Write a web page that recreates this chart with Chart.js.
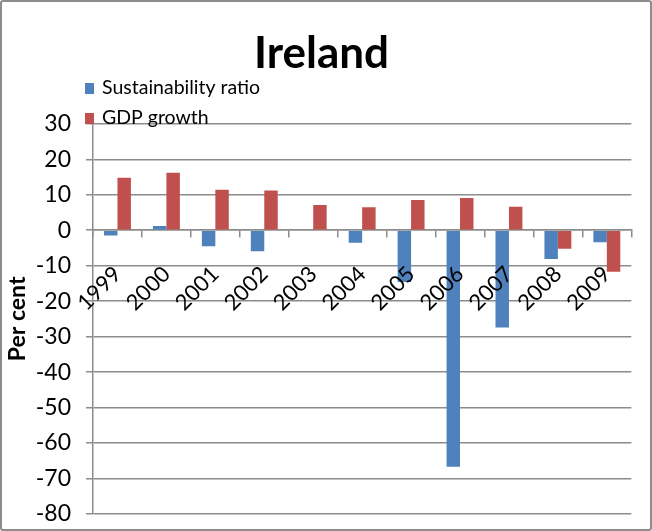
<!DOCTYPE html>
<html>
<head>
<meta charset="utf-8">
<script src="https://cdn.jsdelivr.net/npm/chart.js@4/dist/chart.umd.min.js"></script>
<style>
  html, body { margin: 0; padding: 0; background: #fff; }
  #frame {
    width: 652px; height: 531px; box-sizing: border-box;
    border: 2px solid #8c8c8c; border-radius: 3px; background: #fff;
  }
  #chart { display: block; }
</style>
</head>
<body>
<div id="frame"><canvas id="chart" width="648" height="527"></canvas></div>
<script>
// Data
const years = ['1999', '2000', '2001', '2002', '2003', '2004', '2005', '2006', '2007', '2008', '2009'];
const sustainabilityRatio = [-1.5, 1.2, -4.5, -5.9, 0, -3.5, -14.6, -66.7, -27.4, -8.1, -3.4];
const gdpGrowth = [14.8, 16.2, 11.4, 11.2, 7.1, 6.5, 8.5, 9.1, 6.6, -5.2, -11.7];
const yTicks = [30, 20, 10, 0, -10, -20, -30, -40, -50, -60, -70, -80];

const FONT = 'Lato, "Open Sans", sans-serif';
const GRID = '#8c8c8c';

// Legend stacked top-left, drawn over the plot like the original sheet
const stackedLegend = {
  id: 'stackedLegend',
  afterDraw(chart) {
    const ctx = chart.ctx;
    ctx.save();
    ctx.font = '19.5px ' + FONT;
    ctx.textBaseline = 'middle';
    chart.data.datasets.forEach((ds, i) => {
      const y = 86 + i * 30;
      ctx.fillStyle = ds.backgroundColor;
      ctx.fillRect(83, y - 5, 9, 11);
      ctx.fillStyle = '#000';
      ctx.fillText(ds.label, 100, y);
    });
    ctx.restore();
  }
};

new Chart(document.getElementById('chart'), {
  type: 'bar',
  data: {
    labels: years,
    datasets: [
      { label: 'Sustainability ratio', data: sustainabilityRatio, backgroundColor: '#4f81bd' },
      { label: 'GDP growth', data: gdpGrowth, backgroundColor: '#c0504d' }
    ]
  },
  options: {
    responsive: false,
    animation: false,
    layout: { padding: { top: 25, right: 11, bottom: 15, left: 2 } },
    datasets: { bar: { barPercentage: 1, categoryPercentage: 0.55 } },
    plugins: {
      legend: { display: false },
      tooltip: { enabled: false },
      title: {
        display: true,
        text: 'Ireland',
        color: '#000',
        font: { family: FONT, size: 44, weight: 'bold', lineHeight: 1.2 },
        padding: { top: 0, bottom: 44 }
      }
    },
    scales: {
      x: {
        position: { y: 0 },
        offset: true,
        // axis sits on the zero line, so it needs no room of its own
        afterFit(scale) { scale.height = 0; },
        grid: { display: true, drawOnChartArea: false, offset: true, tickLength: 7, color: GRID, lineWidth: 1.5 },
        border: { display: true, color: GRID, width: 1.5 },
        ticks: {
          z: 1,
          color: '#000', font: { family: FONT, size: 22 },
          minRotation: 45, maxRotation: 45, padding: 24, autoSkip: false
        }
      },
      y: {
        min: -80,
        max: 30,
        afterBuildTicks(scale) {
          scale.ticks = yTicks.map(v => ({ value: v }));
        },
        afterFit(scale) {
          scale.width = 89;
          // tick padding should only push labels sideways
          scale.paddingTop = 12;
          scale.paddingBottom = 12;
        },
        grid: { color: GRID, lineWidth: 1.5, tickLength: 7 },
        border: { display: true, color: GRID, width: 1.5 },
        ticks: { color: '#000', font: { family: FONT, size: 23 }, padding: 15 },
        title: {
          display: true,
          text: 'Per cent',
          color: '#000',
          font: { family: FONT, size: 23, weight: 'bold' },
          padding: 0
        }
      }
    }
  },
  plugins: [stackedLegend]
});
</script>
</body>
</html>
